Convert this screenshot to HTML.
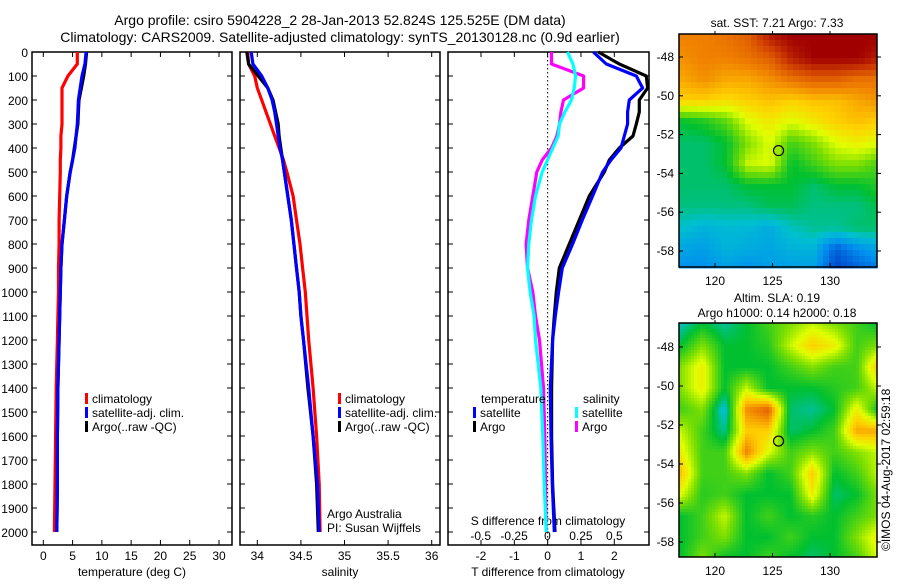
<!DOCTYPE html>
<html><head><meta charset="utf-8"><style>
body{margin:0;background:#fff;}
svg text{font-family:"Liberation Sans",sans-serif;fill:#000;}
</style></head><body>
<svg id="chart" width="900" height="580" viewBox="0 0 900 580" xmlns="http://www.w3.org/2000/svg">
<text x="340" y="25" font-size="14" text-anchor="middle">Argo profile: csiro 5904228_2 28-Jan-2013 52.824S 125.525E (DM data)</text>
<text x="340" y="42" font-size="14" text-anchor="middle">Climatology: CARS2009. Satellite-adjusted climatology: synTS_20130128.nc (0.9d earlier)</text>
<text x="777" y="27" font-size="12" text-anchor="middle">sat. SST: 7.21 Argo: 7.33</text>
<text x="777" y="302" font-size="12" text-anchor="middle">Altim. SLA: 0.19</text>
<text x="777" y="317" font-size="12" text-anchor="middle">Argo h1000: 0.14 h2000: 0.18</text>
<text transform="translate(890,551) rotate(-90)" font-size="12">©IMOS 04-Aug-2017 02:59:18</text>
<g id="g"></g>
</svg>
<script>
const depths=[0,50,100,150,200,250,300,350,400,450,500,600,700,800,900,1000,1100,1200,1400,1600,1800,2000];
const tempClim=[5.8,5.8,4.2,3.2,3.2,3.2,3.2,3.0,3.0,2.9,2.9,2.8,2.7,2.7,2.6,2.6,2.5,2.4,2.2,2.1,2.0,1.9];
const tempSat=[7.3,7.1,6.6,6.3,6.0,5.9,5.8,5.6,5.4,5.0,4.6,4.0,3.6,3.2,3.0,2.9,2.8,2.7,2.5,2.4,2.4,2.3];
const tempArgo=[7.4,7.2,6.9,6.5,6.1,6.0,5.9,5.6,5.3,5.0,4.6,4.0,3.6,3.2,3.0,2.9,2.8,2.7,2.5,2.4,2.4,2.3];
const salClim=[33.89,33.9,33.97,34.0,34.05,34.1,34.15,34.2,34.25,34.3,34.34,34.41,34.45,34.49,34.52,34.55,34.57,34.59,34.64,34.68,34.71,34.72];
const salSat=[33.93,33.95,34.05,34.12,34.17,34.2,34.22,34.24,34.26,34.29,34.31,34.35,34.39,34.42,34.45,34.48,34.5,34.53,34.59,34.64,34.69,34.71];
const salArgo=[33.88,33.9,34.01,34.12,34.18,34.21,34.24,34.25,34.27,34.29,34.31,34.35,34.39,34.42,34.45,34.48,34.5,34.53,34.58,34.64,34.68,34.70];
const tDiffSat=[1.37,1.76,2.66,2.85,2.45,2.4,2.4,2.3,2.2,1.9,1.65,1.35,1.04,0.75,0.44,0.33,0.23,0.15,0.08,0.1,0.14,0.2];
const tDiffArgo=[1.52,2.15,2.96,3.0,2.75,2.75,2.66,2.56,2.15,1.85,1.7,1.25,0.95,0.65,0.35,0.26,0.2,0.15,0.12,0.12,0.15,0.22];
const sDiffSat=[0.15,0.19,0.21,0.2,0.18,0.13,0.09,0.08,0.04,0,-0.04,-0.09,-0.12,-0.14,-0.15,-0.13,-0.1,-0.09,-0.05,-0.035,-0.025,-0.01];
const sDiffArgo=[0.03,0.03,0.27,0.27,0.12,0.1,0.09,0.07,0.03,-0.04,-0.08,-0.11,-0.14,-0.16,-0.15,-0.11,-0.09,-0.06,-0.03,-0.02,-0.015,-0.01];
const depthTicks=[0,100,200,300,400,500,600,700,800,900,1000,1100,1200,1300,1400,1500,1600,1700,1800,1900,2000];
const tempTicks=[0,5,10,15,20,25,30];
const salTicks=[34,34.5,35,35.5,36];
const salTickLabels=["34","34.5","35","35.5","36"];
const tDiffTicks=[-2,-1,0,1,2];
const sDiffTicks=[-0.5,-0.25,0,0.25,0.5];
const sDiffTickLabels=["-0.5","-0.25","0","0.25","0.5"];
const latTicks=[-48,-50,-52,-54,-56,-58];
const lonTicks=[120,125,130];
const argoLon=125.525, argoLat=-52.824;
const sstGrid=[
[.80,.80,.82,.85,.95,1,1,1,1,1],
[.78,.80,.80,.82,.85,.95,1,1,1,.95],
[.75,.78,.75,.75,.78,.82,.85,.85,.82,.82],
[.70,.70,.68,.70,.72,.70,.72,.72,.75,.78],
[.45,.47,.52,.62,.66,.62,.66,.70,.72,.70],
[.42,.42,.45,.55,.62,.50,.55,.62,.65,.62],
[.42,.42,.45,.60,.62,.45,.50,.55,.55,.50],
[.42,.42,.42,.45,.45,.45,.42,.45,.45,.48],
[.41,.41,.41,.41,.43,.43,.41,.41,.41,.44],
[.37,.35,.36,.36,.34,.38,.40,.40,.42,.42],
[.33,.32,.35,.34,.33,.35,.35,.25,.30,.33],
[.30,.30,.32,.30,.32,.32,.32,.22,.25,.28]];
const slaGrid=[
[.38,.45,.40,.45,.50,.55,.60,.55,.50,.45],
[.45,.55,.45,.45,.48,.60,.70,.65,.50,.55],
[.55,.65,.45,.45,.45,.50,.55,.50,.50,.72],
[.55,.65,.45,.60,.45,.45,.45,.48,.50,.60],
[.50,.55,.35,.78,.85,.42,.40,.45,.65,.45],
[.60,.50,.40,.70,.70,.42,.45,.50,.75,.75],
[.65,.50,.50,.80,.62,.50,.55,.50,.55,.60],
[.72,.50,.50,.55,.45,.50,.70,.45,.50,.60],
[.62,.48,.50,.45,.45,.45,.65,.42,.45,.55],
[.45,.50,.60,.45,.50,.45,.48,.45,.50,.55],
[.45,.50,.55,.45,.45,.50,.45,.45,.55,.65],
[.45,.55,.45,.45,.50,.45,.42,.45,.50,.62]];

const NS="http://www.w3.org/2000/svg";
const G=document.getElementById('g');
function mk(tag,attrs,parent){const e=document.createElementNS(NS,tag);for(const k in attrs)e.setAttribute(k,attrs[k]);(parent||G).appendChild(e);return e;}
function lin(d0,d1,r0,r1){return v=>r0+(v-d0)*(r1-r0)/(d1-d0);}
const yD=lin(0,2000,52,532);
const PT=52,PB=545;
const panels=[
 {name:'temperature',x0:32,x1:232,xs:lin(0,30,43.3,219)},
 {name:'salinity',x0:240,x1:440,xs:lin(34,36,257.3,431.7)},
 {name:'difference',x0:448,x1:649,xs:lin(-2,2,481,614.3)}];
const sxs=lin(-0.5,0.5,480.7,614.3);

function line(xs,vals,color,name){
 const pts=depths.map((d,i)=>xs(vals[i]).toFixed(1)+','+yD(d).toFixed(1)).join(' ');
 const p=mk('polyline',{points:pts,fill:'none',stroke:color,'stroke-width':3.2,'stroke-linejoin':'round'});
 
 
}
panels.forEach((P,pi)=>{
 const f=mk('rect',{x:P.x0,y:PT,width:P.x1-P.x0,height:PB-PT,fill:'none',stroke:'#000','stroke-width':1.5});
 
 
 depthTicks.forEach(d=>{
  mk('line',{x1:P.x0,x2:P.x0+5,y1:yD(d),y2:yD(d),stroke:'#000'});
  mk('line',{x1:P.x1-5,x2:P.x1,y1:yD(d),y2:yD(d),stroke:'#000'});
  if(pi===0){const t=mk('text',{x:28,y:yD(d)+5,'font-size':12,'text-anchor':'end'});t.textContent=d;
   
   }
 });
});
tempTicks.forEach(v=>{const x=panels[0].xs(v);mk('line',{x1:x,x2:x,y1:PB,y2:PB-5,stroke:'#000'});mk('line',{x1:x,x2:x,y1:PT,y2:PT+5,stroke:'#000'});
 const t=mk('text',{x:x,y:560,'font-size':12,'text-anchor':'middle'});t.textContent=v;
 
 });
salTicks.forEach((v,i)=>{const x=panels[1].xs(v);mk('line',{x1:x,x2:x,y1:PB,y2:PB-5,stroke:'#000'});mk('line',{x1:x,x2:x,y1:PT,y2:PT+5,stroke:'#000'});
 const t=mk('text',{x:x,y:560,'font-size':12,'text-anchor':'middle'});t.textContent=salTickLabels[i];
 
 });
tDiffTicks.forEach(v=>{const x=panels[2].xs(v);mk('line',{x1:x,x2:x,y1:PB,y2:PB-5,stroke:'#000'});mk('line',{x1:x,x2:x,y1:PT,y2:PT+5,stroke:'#000'});
 const t=mk('text',{x:x,y:560,'font-size':12,'text-anchor':'middle'});t.textContent=v;
 
 });
sDiffTicks.forEach((v,i)=>{const t=mk('text',{x:sxs(v),y:540,'font-size':12,'text-anchor':'middle'});t.textContent=sDiffTickLabels[i];
 
 });
function label(x,y,s,name,anchor,size){const t=mk('text',{x:x,y:y,'font-size':size||12,'text-anchor':anchor||'middle'});t.textContent=s;
 
 return t;}
label(132,576,'temperature (deg C)','temperature-axis-title');
label(340,576,'salinity','salinity-axis-title');
label(548,576,'T difference from climatology','t-diff-axis-title');
label(548,525,'S difference from climatology','s-diff-axis-title');
mk('line',{x1:panels[2].xs(0),x2:panels[2].xs(0),y1:PT,y2:PB,stroke:'#000','stroke-dasharray':'1.5,2.5','stroke-width':1});
line(panels[0].xs,tempClim,'#ff0000','temp-climatology-line');
line(panels[0].xs,tempArgo,'#000','temp-argo-line');
line(panels[0].xs,tempSat,'#0000ff','temp-satellite-line');
line(panels[1].xs,salClim,'#ff0000','sal-climatology-line');
line(panels[1].xs,salArgo,'#000','sal-argo-line');
line(panels[1].xs,salSat,'#0000ff','sal-satellite-line');
line(sxs,sDiffArgo,'#ff00ff','s-diff-argo-line');
line(sxs,sDiffSat,'#00ffff','s-diff-satellite-line');
line(panels[2].xs,tDiffArgo,'#000','t-diff-argo-line');
line(panels[2].xs,tDiffSat,'#0000ff','t-diff-satellite-line');
function legend(x,y,color,s,name){const r=mk('rect',{x:x,y:y-10,width:3,height:11,fill:color});
 
 
 label(x+7,y,s,name,'start',12);}
legend(85,403,'#ff0000','climatology','legend-climatology');
legend(85,417,'#0000ff','satellite-adj. clim.','legend-satellite');
legend(85,431,'#000','Argo(..raw -QC)','legend-argo');
legend(338,403,'#ff0000','climatology','legend2-climatology');
legend(338,417,'#0000ff','satellite-adj. clim.','legend2-satellite');
legend(338,431,'#000','Argo(..raw -QC)','legend2-argo');
label(481,403,'temperature','legend-temperature-header','start');
legend(473,417,'#0000ff','satellite','legend-t-satellite');
legend(473,431,'#000','Argo','legend-t-argo');
label(583,403,'salinity','legend-salinity-header','start');
legend(575,417,'#00ffff','satellite','legend-s-satellite');
legend(575,431,'#ff00ff','Argo','legend-s-argo');
label(327,518,'Argo Australia','credit-line-1','start');
label(327,532,'PI: Susan Wijffels','credit-line-2','start');

const stops=[[0,[0,0,140]],[0.2,[0,48,192]],[0.3,[0,144,240]],[0.37,[0,192,208]],[0.45,[0,192,48]],[0.55,[128,224,0]],[0.62,[224,255,0]],[0.7,[255,208,0]],[0.8,[240,128,0]],[0.9,[208,64,0]],[1,[160,0,0]]];
function cmap(v){v=Math.max(0,Math.min(1,v));for(let i=1;i<stops.length;i++){if(v<=stops[i][0]){const a=stops[i-1],b=stops[i],t=(v-a[0])/(b[0]-a[0]);return 'rgb('+a[1].map((c,k)=>Math.round(c+(b[1][k]-c)*t)).join(',')+')';}}return 'rgb(160,0,0)';}
function sample(grid,u,v){const R=grid.length,C=grid[0].length;const x=u*(C-1),y=v*(R-1);const i=Math.min(Math.floor(y),R-2),j=Math.min(Math.floor(x),C-2);const fy=y-i,fx=x-j;
 return grid[i][j]*(1-fx)*(1-fy)+grid[i][j+1]*fx*(1-fy)+grid[i+1][j]*(1-fx)*fy+grid[i+1][j+1]*fx*fy;}
function drawMap(name,grid,y0,y1,lat48y,lat58y,cell){
 const x0=679,x1=877;
 const lon=lin(120,130,715,830), lat=lin(-48,-58,lat48y,lat58y);
 const g=mk('g',{});
 
 
 for(let y=y0;y<y1;y+=cell)for(let x=x0;x<x1;x+=cell){
  mk('rect',{x:x,y:y,width:cell+0.5,height:cell+0.5,fill:cmap(sample(grid,(x-x0)/(x1-x0),(y-y0)/(y1-y0)))},g);
 }
 mk('rect',{x:x0,y:y0,width:x1-x0,height:y1-y0,fill:'none',stroke:'#000','stroke-width':1.5});
 latTicks.forEach(v=>{const y=lat(v);mk('line',{x1:x0,x2:x0+4,y1:y,y2:y,stroke:'#000'});mk('line',{x1:x1,x2:x1+4,y1:y,y2:y,stroke:'#000'});
  label(674,y+4,String(v),name+'-lat-label','end');});
 lonTicks.forEach(v=>{const x=lon(v);mk('line',{x1:x,x2:x,y1:y1,y2:y1-4,stroke:'#000'});mk('line',{x1:x,x2:x,y1:y0,y2:y0-3,stroke:'#000'});
  label(x,y1+18,String(v),name+'-lon-label');});
 const m=mk('circle',{cx:lon(argoLon),cy:lat(argoLat),r:5,fill:'none',stroke:'#000','stroke-width':1.2});
 
 
}
drawMap('sst-map',sstGrid,34,267,57,251,6);
drawMap('sla-map',slaGrid,323,557,347,542,3);
</script>
</body></html>
